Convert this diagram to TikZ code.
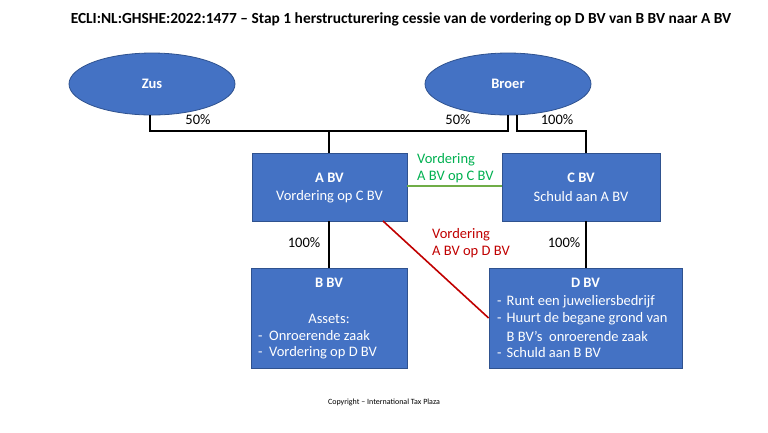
\documentclass[tikz,border=0pt]{standalone}
\usepackage{fontspec}
\setmainfont{Carlito}
\usetikzlibrary{shapes.geometric}
\definecolor{boxblue}{HTML}{4472C4}
\definecolor{boxline}{HTML}{2F528F}
\definecolor{vgreen}{HTML}{70AD47}
\definecolor{tgreen}{HTML}{00B050}
\definecolor{vred}{HTML}{C00000}
\tikzset{
  ent/.style={draw=boxline, fill=boxblue, line width=0.8pt, inner sep=0pt},
  oval/.style={ellipse, draw=boxline, fill=boxblue, line width=0.8pt, text=white, font=\bfseries\fontsize{14.5}{17}\selectfont, minimum width=166pt, minimum height=62pt, inner sep=0pt},
  own/.style={draw=black, line width=1.6pt},
  pct/.style={font=\fontsize{14.5}{17}\selectfont, inner sep=0pt},
  wt/.style={text=white, font=\fontsize{14.5}{17}\selectfont, inner sep=0pt},
  wtl/.style={wt, anchor=west},
  lbl/.style={font=\fontsize{14.5}{17}\selectfont, inner sep=0pt, anchor=west},
}
\newcommand{\dashitem}[1]{\makebox[9.5pt][l]{-}#1}
\newcommand{\dashitemb}[1]{\makebox[11pt][l]{-}#1}
\begin{document}
\begin{tikzpicture}[x=1pt,y=-1pt]
\useasboundingbox (0,0) rectangle (768,432);
\node[font=\bfseries\fontsize{15.4}{18}\selectfont, inner sep=0pt] (title) at (401,19) {ECLI:NL:GHSHE:2022:1477 – Stap 1 herstructurering cessie van de vordering op D BV van B BV naar A BV};
\node[oval] (zus) at (152,84) {Zus};
\node[oval] (broer) at (508,84) {Broer};
% boxes
\node[ent, minimum width=155pt, minimum height=68pt] (abv) at (329.5,187) {};
\node[ent, minimum width=158pt, minimum height=68pt] (cbv) at (581,187) {};
\node[ent, minimum width=156pt, minimum height=100pt] (bbv) at (329,318) {};
\node[ent, minimum width=193pt, minimum height=100pt] (dbv) at (585.5,318) {};
% box texts
\node[wt, font=\bfseries\fontsize{14.5}{17}\selectfont] (at) at (329.5,178) {A BV};
\node[wt] (a1) at (329.5,197) {Vordering op C BV};
\node[wt, font=\bfseries\fontsize{14.5}{17}\selectfont] (ct) at (581,178) {C BV};
\node[wt] (c1) at (581,197) {Schuld aan A BV};
\node[wt, font=\bfseries\fontsize{14.5}{17}\selectfont] (bt) at (329,283) {B BV};
\node[wt] (b0) at (329,319) {Assets:};
\node[wtl] (b1) at (258,336) {\dashitemb{Onroerende zaak}};
\node[wtl] (b2) at (258,353) {\dashitemb{Vordering op D BV}};
\node[wt, font=\bfseries\fontsize{14.5}{17}\selectfont] (dt) at (585.5,283) {D BV};
\node[wtl] (d1) at (497,302) {\dashitem{Runt een juweliersbedrijf}};
\node[wtl] (d2) at (497,319) {\dashitem{Huurt de begane grond van}};
\node[wtl] (d3) at (506.5,336) {B BV’s\ \ onroerende zaak};
\node[wtl] (d4) at (497,353) {\dashitem{Schuld aan B BV}};
% ownership lines
\coordinate (jz) at (150,131);
\coordinate (jb) at (508,131);
\coordinate (ja) at (329,131);
\coordinate (ab) at (329,221);
\coordinate (bc1) at (517,131);
\coordinate (bc2) at (586,131);
\draw[own] (zus.south -| jz) -- (jz) -- (jb) -- (broer.south);
\draw[own] (ja) -- (ja |- abv.north);
\draw[own] (broer.south -| bc1) -- (bc1) -- (bc2) -- (bc2 |- cbv.north);
\draw[own] (ab) -- (ab |- bbv.north);
\draw[own] (cbv.south -| bc2) -- (bc2 |- dbv.north);
\node[pct] (p1) at (198,120) {50\%};
\node[pct] (p2) at (458,120) {50\%};
\node[pct] (p3) at (557,120) {100\%};
\node[pct] (p4) at (304,243) {100\%};
\node[pct] (p5) at (564,243) {100\%};
% receivables
\draw[vgreen, line width=1.6pt] (abv.east |- 0,186) -- (cbv.west |- 0,186);
\node[lbl, text=tgreen] (g1) at (417,160) {Vordering};
\node[lbl, text=tgreen] (g2) at (417,177) {A BV op C BV};
\coordinate (rs) at (383,221);
\draw[vred, line width=1.6pt] (rs) -- (dbv.west |- 0,318);
\node[lbl, text=vred] (r1) at (432,235) {Vordering};
\node[lbl, text=vred] (r2) at (432,252) {A BV op D BV};
\node[font=\fontsize{8}{9}\selectfont, inner sep=0pt] (copy) at (384,402) {Copyright – International Tax Plaza};
\end{tikzpicture}
\end{document}
